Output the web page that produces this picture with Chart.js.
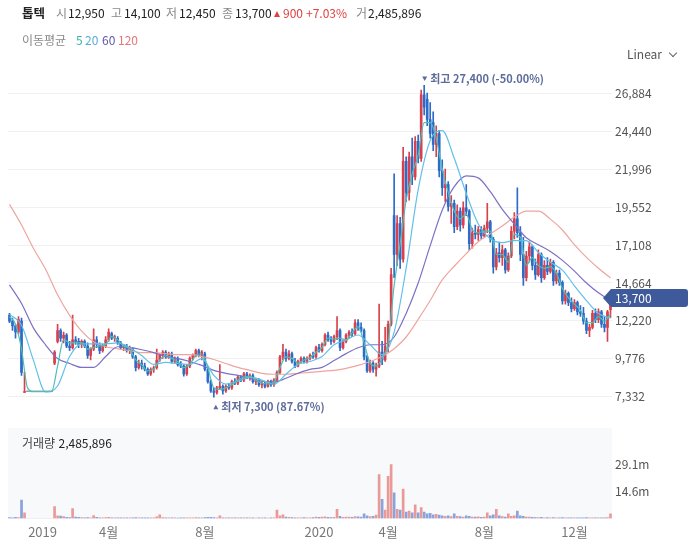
<!DOCTYPE html>
<html lang="ko">
<head>
<meta charset="UTF-8">
<title>톱텍 일봉 차트</title>
<script src="https://cdn.jsdelivr.net/npm/chart.js@4.4.1/dist/chart.umd.min.js"></script>
<style>
  body { margin: 0; background: #fff; font-family: 'Noto Sans CJK KR', 'Noto Sans', sans-serif; }
  .wrap { position: relative; width: 692px; height: 550px; overflow: hidden; }
  .wrap canvas { position: absolute; left: 0; }
  .t { position: absolute; white-space: nowrap; font-size: 12px; line-height: 16px; color: #222; }
  .lb { color: #888; }
  .nm { font-weight: bold; color: #222; font-size: 12.5px; }
  .up { color: #e0403f; }
  .tri { display: inline-block; width: 0; height: 0; border-left: 3.5px solid transparent;
         border-right: 3.5px solid transparent; border-bottom: 6px solid #e0403f; margin-right: 3px; vertical-align: 1px; }
  .chev { display: inline-block; width: 5px; height: 5px; border-right: 1.3px solid #666; border-bottom: 1.3px solid #666;
          transform: rotate(45deg); margin-left: 8px; vertical-align: 3px; }
</style>
</head>
<body>
<div class="wrap">
  <canvas id="price" width="692" height="428" style="top:0"></canvas>
  <canvas id="vol" width="692" height="122" style="top:428px"></canvas>
  <div id="hdr"></div>
</div>
<script>
// candles, oldest first (each bar ~ 3 trading days)
const openP = [
  12600,12200,11900,11500,12200,7600,7650,7650,7650,7650,
  7650,7650,7650,7650,7650,9500,10900,11600,11100,11300,
  10600,10500,11000,10900,10700,10900,10600,10000,10400,11000,
  10700,10300,10600,11000,11400,11100,11100,10800,10500,10600,
  10300,10400,9900,9200,9500,9300,9100,8800,9100,9200,
  9700,10000,10200,9900,10100,9600,9800,9400,9300,8800,
  9300,9800,10000,10300,10000,10100,9100,8300,7700,7600,
  7900,8000,7700,8000,7900,8300,8200,8600,8400,8800,
  8600,8700,8300,8400,8100,8200,8000,8300,8100,8400,
  8900,9900,10200,9800,10100,9600,9300,9600,9800,9600,
  9800,10000,9900,10500,10300,10700,11300,11000,10900,11200,
  11600,10500,10900,11300,11500,11400,12100,11800,11600,9900,
  9000,9500,9100,9300,10200,9700,10600,12000,19000,16500,
  18500,16200,22500,20500,22800,21500,23800,22700,26800,26500,
  25200,25000,23600,24300,21900,20800,21000,19600,19800,18300,
  19300,18400,19500,19300,17200,17900,17800,18100,17700,18200,
  18600,17500,15700,16600,16300,16800,15500,16400,18000,18800,
  17900,16500,15000,16400,17000,15800,15200,16500,15000,15800,
  15400,16000,14800,15300,14700,13500,14000,13400,13000,13400,
  12800,12700,12200,11600,11800,12700,12300,12800,12000,11800,
  12950
];
const highP = [
  12700,12400,12000,12500,12400,8900,7650,7650,7650,7650,
  7650,7650,7650,7650,7650,10300,12000,11700,11500,11400,
  10900,12600,11200,11100,11000,11000,10800,10500,11700,11200,
  10800,10700,11200,11700,11500,11300,11200,10900,10700,10700,
  10600,10500,10000,9700,9700,9500,9200,9200,9300,10400,
  10100,10300,10300,10200,10200,9900,9900,9600,9400,9400,
  9900,10100,10400,10400,10300,10200,9200,8400,7900,8000,
  9400,8100,8100,8200,8400,8500,8700,8700,8900,8900,
  8800,8800,8500,8500,8300,8300,8400,8400,8500,9000,
  10000,10700,10400,10300,10200,9800,9700,9900,9900,9900,
  10100,10200,10600,10700,10800,11400,11500,11200,11300,12500,
  11700,11000,11400,11600,11700,12300,12300,12100,11700,10000,
  9700,9600,9500,13300,10900,11800,12200,15600,21700,19000,
  18900,23400,22800,23100,24000,24100,24200,27100,27400,26900,
  26300,25700,24800,24500,22600,22000,21200,20300,20000,19700,
  19500,19900,21000,19400,18200,18400,18300,18300,18400,19800,
  18700,17600,16900,17300,17100,16900,16600,18300,19200,20800,
  18300,17600,16700,17300,17100,16200,16800,16600,16100,16300,
  16200,16100,15500,15500,14800,14200,14100,13700,13600,13500,
  13200,13100,12400,12000,12900,13000,13000,12900,12500,12900,
  14100
];
const lowP = [
  12100,11600,11100,11400,8700,7600,7650,7650,7650,7650,
  7650,7650,7650,7650,7650,9400,10800,10900,10800,10500,
  10300,10400,10700,10500,10500,10500,9800,9700,10300,10500,
  10100,10200,10500,10900,11000,10900,10700,10400,10300,10200,
  10100,9800,9000,9100,9100,9000,8700,8700,8900,9100,
  9600,9800,9800,9800,9500,9500,9300,9200,8650,8700,
  9200,9700,9900,9900,9700,9000,8200,7600,7300,7500,
  7800,7500,7600,7800,7800,8100,8100,8300,8300,8500,
  8400,8200,8100,8000,7900,7900,7950,8000,8000,8300,
  8800,9700,9600,9700,9500,9200,9250,9500,9500,9500,
  9700,9800,9800,10200,10200,10600,10900,10700,10800,11000,
  10300,10400,10800,11100,11200,11300,11600,11500,9700,8900,
  8900,8900,8650,9200,9400,9600,10200,11900,15000,15800,
  15600,16000,19900,20000,21000,21300,22400,22500,25500,24800,
  24000,23200,22800,21500,20300,19900,19300,18500,17900,18100,
  18000,18200,19000,16800,16900,17500,17400,17500,17600,17900,
  17300,15300,15500,16000,15800,15300,15400,16300,17500,17600,
  16100,14500,14800,16000,15500,14900,15100,14700,14900,15200,
  15300,14500,14600,14500,13300,13300,13200,12800,12900,12600,
  12500,12000,11400,11200,11700,12100,12100,11800,11500,10900,
  12450
];
const closeP = [
  12200,11900,11500,12300,8900,7650,7650,7650,7650,7650,
  7650,7650,7650,7650,7650,10200,11600,11100,11300,10600,
  10500,11000,10900,10700,10900,10600,10000,10400,11000,10700,
  10300,10600,11000,11500,11100,11200,10800,10500,10600,10300,
  10500,9900,9200,9500,9300,9100,8800,9100,9200,9700,
  10000,10200,9900,10100,9600,9800,9400,9300,8800,9300,
  9800,10000,10300,10000,10200,9100,8300,7700,7600,7900,
  8000,7700,8000,7900,8300,8200,8600,8400,8800,8600,
  8700,8300,8400,8100,8200,8000,8300,8100,8400,8900,
  9900,10200,9800,10100,9600,9300,9600,9800,9600,9800,
  10000,9900,10500,10300,10700,11300,11000,10900,11200,11600,
  10500,10900,11300,11500,11400,12100,11800,11600,9900,9000,
  9500,9100,9300,10200,9700,10600,12000,15200,16500,18500,
  16200,22500,20500,22800,21500,23800,22700,26800,26000,25200,
  24300,23600,24300,21900,20800,21000,19600,19800,18300,19300,
  18400,19500,19300,17200,17900,17800,18100,17700,18200,18600,
  17500,15700,16600,16300,16800,15500,16400,18000,18800,17900,
  16500,15000,16400,17000,15800,15200,16500,15000,15800,15400,
  16000,14800,15300,14700,13500,14000,13400,13000,13400,12800,
  12700,12200,11600,11800,12700,12300,12800,12000,11800,12800,
  13700
];
// volume, millions of shares
const volumeM = [
  0.5,0.4,0.6,0.5,9.9,3.0,0,0,0,0,
  0,0,0,0,0,6.4,1.5,1.3,1.0,0.6,
  0.5,5.4,0.8,0.6,0.5,0.4,0.5,0.4,1.6,0.6,
  0.4,0.3,0.5,0.6,0.4,0.3,0.4,0.3,0.3,0.4,
  0.3,0.4,0.5,0.3,0.3,0.4,0.3,0.3,0.4,0.9,
  2.0,0.5,0.4,0.3,0.3,0.3,0.2,0.3,0.4,0.3,
  0.3,0.4,0.5,0.4,0.3,0.5,0.6,0.6,0.5,0.4,
  1.5,0.4,0.3,0.3,0.3,0.4,0.3,0.3,0.4,0.3,
  0.3,0.3,0.2,0.3,0.3,0.3,0.2,0.3,0.4,4.5,
  1.5,2.0,0.8,0.6,0.5,0.4,0.3,0.4,0.5,0.4,
  0.4,0.5,0.8,0.6,0.7,0.9,0.6,0.5,0.6,5.0,
  1.2,0.6,0.8,0.7,0.6,1.0,0.9,0.8,2.5,1.5,
  1.0,1.2,1.8,23.7,10.4,4.5,22.8,29.1,13.9,5.0,
  4.5,15.8,3.5,4.0,3.0,7.4,3.0,5.9,3.5,2.5,
  2.8,2.0,2.2,1.8,1.5,1.2,1.4,1.0,2.5,1.2,
  1.0,0.8,1.5,1.2,0.8,0.7,0.9,0.6,0.8,3.0,
  1.5,2.0,5.0,1.5,1.0,0.8,2.5,1.2,1.5,4.0,
  1.5,1.2,0.8,0.7,0.6,0.5,0.5,0.6,0.4,0.5,
  0.4,0.5,0.4,0.3,0.5,0.4,0.3,0.3,0.4,0.3,
  0.3,0.4,0.5,0.4,0.3,0.4,0.3,0.3,0.4,0.5,
  2.485896
];
// moving averages, ma5 every 2 bars, the others every 4 bars
const ma5 = [
  12500,12000,10400,7900,7650,7650,7650,7650,9300,11000,
  10800,10800,10800,10400,10500,10600,10700,11200,11000,10600,
  10400,9700,9400,9000,9100,9700,10000,9800,9600,9200,
  9400,10000,10100,9200,7900,7800,7900,8100,8400,8600,
  8650,8400,8200,8150,8250,9200,9900,9800,9500,9700,
  9850,10200,10500,11100,11050,11100,11000,11450,11850,10800,
  9500,9300,9800,10800,14500,17200,20000,21700,22900,25000,
  25000,24000,22000,20500,19300,18800,19100,18100,17900,18000,
  18000,16500,16500,16000,17800,17600,15800,16300,15800,15600,
  15700,15300,14300,13700,13300,12900,12100,12100,12500,12200,
  12650
];
const ma20 = [
  12640,11940,9660,7640,8020,9920,10740,10740,10740,10800,
  10490,9980,9410,9540,9470,9410,9790,8710,8140,8330,
  8590,8400,8140,8780,9410,9600,9920,10680,10990,11310,
  10680,10040,11500,15620,20680,23850,24480,22700,20430,18460,
  17510,17260,17390,17390,16630,16000,15490,14480,13530,12700,
  12390
];
const ma60 = [
  14540,13340,11750,10680,9790,9470,9220,9220,9920,10550,
  10490,10360,10170,9920,9790,9600,9350,9030,8840,8710,
  8520,8330,8270,8520,8840,9090,9220,9660,10110,10490,
  10680,10680,11180,12700,14660,17070,19350,20870,21570,21440,
  20550,19410,18460,17580,17130,16690,16120,15430,14660,14030,
  13530
];
const ma120 = [
  19730,18400,16880,15550,13900,12576,11560,10870,10550,10420,
  10300,10170,10170,10110,10040,10040,9920,9730,9470,9220,
  9030,8840,8780,8780,8840,8900,8970,9030,9160,9350,
  9600,9920,10420,11180,12320,13530,14860,15740,16560,17320,
  17830,18340,18910,19290,19290,18780,18080,17130,16310,15610,
  14980
];
const priceTicks = [7332, 9776, 12220, 14664, 17108, 19552, 21996, 24440, 26884];
const volTicks = [14.55, 29.1];
const volTickText = ['14.6m', '29.1m'];
const tickIdx = [11, 33, 65, 103, 126, 158, 188];
const tickText = ['2019', '4월', '8월', '2020', '4월', '8월', '12월'];

const FONT = "'Noto Sans CJK KR', 'Noto Sans', sans-serif";
Chart.defaults.font.family = FONT;

const N = closeP.length;
const idx = closeP.map((_, i) => i);
const fmt = v => v.toLocaleString('en-US');
const upC = '#d8414c', downC = '#2c6bc9', flatC = '#8c9aa8';
const dir = idx.map(i => closeP[i] > openP[i] ? 1 : closeP[i] < openP[i] ? -1 : 0);
const candleColor = dir.map(d => d > 0 ? upC : d < 0 ? downC : flatC);
const volColor = dir.map(d => d > 0 ? '#ea9999' : d < 0 ? '#8aa3da' : '#b9c0ca');

function maLine(vals, step, color, order) {
  return {
    type: 'line', data: vals.map((v, k) => ({ x: k * step, y: v })),
    borderColor: color, borderWidth: 1.2, pointRadius: 0,
    cubicInterpolationMode: 'monotone', order: order
  };
}

// header text
const last = N - 1;
const chg = closeP[last] - closeP[last - 1];
const pct = chg / closeP[last - 1] * 100;
const hdr = document.getElementById('hdr');
function put(html, left, top, cls) {
  const s = document.createElement('span');
  s.className = 't ' + (cls || '');
  s.style.left = left + 'px';
  s.style.top = top + 'px';
  s.innerHTML = html;
  hdr.appendChild(s);
}
put('톱텍', 22, 5, 'nm');
put('시', 56, 5, 'lb'); put(fmt(openP[last]), 68, 5);
put('고', 111, 5, 'lb'); put(fmt(highP[last]), 124, 5);
put('저', 166, 5, 'lb'); put(fmt(lowP[last]), 179, 5);
put('종', 222, 5, 'lb'); put(fmt(closeP[last]), 235, 5);
put('<i class="tri"></i>' + fmt(chg), 274, 5, 'up');
put('+' + pct.toFixed(2) + '%', 306, 5, 'up');
put('거', 356, 5, 'lb'); put(fmt(Math.round(volumeM[last] * 1e6)), 368, 5);
put('이동평균', 22, 32, 'lb');
put('<span style="color:#3db3a8">5</span>', 76, 32);
put('<span style="color:#56acdc">20</span>', 85, 32);
put('<span style="color:#5f58aa">60</span>', 102, 32);
put('<span style="color:#e57676">120</span>', 118, 32);
put('<span style="color:#555">Linear</span><i class="chev"></i>', 627, 46);
put('<span style="color:#444">거래량</span> ' + fmt(Math.round(volumeM[last] * 1e6)), 22, 435);

// high / low labels and last price tag
const annot = {
  id: 'annot',
  afterDraw(c) {
    const { ctx } = c;
    const xs = c.scales.x, ys = c.scales.y;
    const maxV = Math.max(...highP), minV = Math.min(...lowP);
    const hi = highP.indexOf(maxV), lo = lowP.indexOf(minV);
    const lastC = closeP[last];
    ctx.save();
    ctx.fillStyle = '#5d6c9b';
    ctx.font = 'bold 11px ' + FONT;
    ctx.textBaseline = 'middle';
    ctx.textAlign = 'left';
    let x = xs.getPixelForValue(hi) - 2, y = ys.getPixelForValue(maxV) - 7;
    ctx.beginPath(); ctx.moveTo(x, y - 2); ctx.lineTo(x + 5, y - 2); ctx.lineTo(x + 2.5, y + 2.5); ctx.closePath(); ctx.fill();
    ctx.fillText('최고 ' + fmt(maxV) + ' (' + ((lastC / maxV - 1) * 100).toFixed(2) + '%)', x + 8, y);
    x = xs.getPixelForValue(lo) - 0.5; y = ys.getPixelForValue(minV) + 10;
    ctx.beginPath(); ctx.moveTo(x, y + 2); ctx.lineTo(x + 5, y + 2); ctx.lineTo(x + 2.5, y - 2.5); ctx.closePath(); ctx.fill();
    ctx.fillText('최저 ' + fmt(minV) + ' (' + ((lastC / minV - 1) * 100).toFixed(2) + '%)', x + 8, y);
    // tag
    y = ys.getPixelForValue(lastC);
    const l = 603, r = 688, h = 9;
    ctx.fillStyle = '#3e5a9a';
    ctx.beginPath();
    ctx.moveTo(l, y);
    ctx.lineTo(l + 8, y - h);
    ctx.lineTo(r - 3, y - h);
    ctx.quadraticCurveTo(r, y - h, r, y - h + 3);
    ctx.lineTo(r, y + h - 3);
    ctx.quadraticCurveTo(r, y + h, r - 3, y + h);
    ctx.lineTo(l + 8, y + h);
    ctx.closePath();
    ctx.fill();
    ctx.fillStyle = '#fff';
    ctx.font = '12px ' + FONT;
    ctx.fillText(fmt(lastC), 615, y + 0.5);
    ctx.restore();
  }
};

new Chart(document.getElementById('price'), {
  type: 'bar',
  data: {
    datasets: [
      { type: 'bar', data: idx.map(i => ({ x: i, y: [lowP[i], highP[i]] })), backgroundColor: candleColor,
        barThickness: 1, grouped: false, order: 6 },
      { type: 'bar', data: idx.map(i => ({ x: i, y: [openP[i], closeP[i]] })), backgroundColor: candleColor,
        barThickness: 2, minBarLength: 1, grouped: false, order: 5 },
      maLine(ma120, 4, '#eea59e', 4),
      maLine(ma60, 4, '#7c70c4', 3),
      maLine(ma20, 4, '#62c0e8', 2),
      maLine(ma5, 2, '#4dbfb6', 1)
    ]
  },
  options: {
    responsive: false, animation: false, events: [],
    layout: { padding: { left: 8, top: 62, right: 0, bottom: 3.5 } },
    plugins: { legend: { display: false }, tooltip: { enabled: false } },
    scales: {
      x: { type: 'linear', min: -0.5, max: N - 0.5, offset: false, display: false },
      y: {
        position: 'right', min: 5971, max: 28909,
        grid: { color: '#f0f0f0', drawTicks: false }, border: { display: false },
        afterBuildTicks: s => { s.ticks = priceTicks.map(v => ({ value: v })); },
        afterFit: s => { s.width = 80; },
        ticks: { padding: 3, color: '#555', font: { size: 12 }, callback: v => fmt(v) }
      }
    }
  },
  plugins: [annot]
});

const volBg = {
  id: 'volBg',
  beforeDraw(c) {
    const a = c.chartArea;
    c.ctx.save();
    c.ctx.fillStyle = '#f8f9fb';
    c.ctx.fillRect(a.left, 0, a.right - a.left, a.bottom);
    c.ctx.restore();
  }
};

new Chart(document.getElementById('vol'), {
  type: 'bar',
  data: {
    datasets: [{ data: idx.map(i => ({ x: i, y: volumeM[i] })), backgroundColor: volColor, barThickness: 2 }]
  },
  options: {
    responsive: false, animation: false, events: [],
    layout: { padding: { left: 8, top: 2, right: 0, bottom: 0 } },
    plugins: { legend: { display: false }, tooltip: { enabled: false } },
    scales: {
      x: {
        type: 'linear', min: -0.5, max: N - 0.5, offset: false,
        grid: { display: false, drawTicks: false }, border: { display: false },
        afterBuildTicks: s => { s.ticks = tickIdx.map(v => ({ value: v })); },
        afterFit: s => { s.height = 31.5; },
        ticks: { autoSkip: false, maxRotation: 0, padding: 6, color: '#777', font: { size: 13 },
                 callback: v => tickText[tickIdx.indexOf(v)] }
      },
      y: {
        position: 'right', min: 0, max: 43.3,
        grid: { display: false, drawTicks: false }, border: { display: false },
        afterBuildTicks: s => { s.ticks = volTicks.map(v => ({ value: v })); },
        afterFit: s => { s.width = 80; },
        ticks: { padding: 3, color: '#555', font: { size: 12 }, callback: v => volTickText[volTicks.indexOf(v)] }
      }
    }
  },
  plugins: [volBg]
});
</script>
</body>
</html>
